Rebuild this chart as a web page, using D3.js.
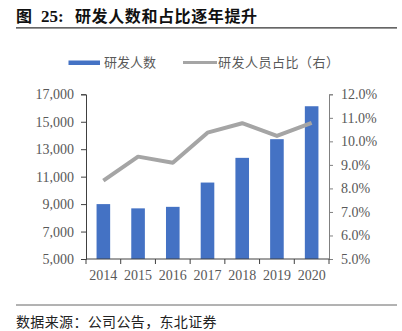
<!DOCTYPE html>
<html>
<head>
<meta charset="utf-8">
<script src="https://cdn.jsdelivr.net/npm/d3@7"></script>
<style>
  html, body { margin: 0; padding: 0; background: #fff; }
  svg { display: block; }
</style>
</head>
<body>
<svg id="chart" width="402" height="331"></svg>
<script>
// R&D headcount (left axis) and R&D share of staff (right axis), 2014–2020
const years = ["2014", "2015", "2016", "2017", "2018", "2019", "2020"];
const rdStaff = [9000, 8690, 8800, 10570, 12370, 13730, 16130];
const rdShare = [8.33, 9.35, 9.09, 10.37, 10.77, 10.23, 10.79];
const leftTicks = [5000, 7000, 9000, 11000, 13000, 15000, 17000];
const rightTicks = [5, 6, 7, 8, 9, 10, 11, 12];

const svg = d3.select("#chart");
const serif = "'Liberation Serif', 'Times New Roman', serif";
const cjk = "'Noto Sans CJK SC', sans-serif";
const labelColor = "#595959";

const plot = { left: 86, right: 329, top: 94.3, bottom: 259 };

// Header
const title = svg.append("text")
  .attr("y", 22)
  .attr("font-family", cjk)
  .attr("font-weight", "bold")
  .attr("font-size", 16)
  .attr("fill", "#111");
title.append("tspan").attr("x", 16).text("图");
title.append("tspan").attr("x", 41).attr("font-family", serif).attr("font-size", 17).text("25:");
title.append("tspan").attr("x", 75).attr("letter-spacing", 0.6).text("研发人数和占比逐年提升");

svg.append("line")
  .attr("x1", 16).attr("x2", 397).attr("y1", 27.8).attr("y2", 27.8)
  .attr("stroke", "#333").attr("stroke-width", 1.2);

// Scales
const xOuter = d3.scaleBand().domain(years).range([plot.left, plot.right]);
const yL = d3.scaleLinear().domain([5000, 17000]).range([plot.bottom, plot.top]);
const yR = d3.scaleLinear().domain([5, 12]).range([plot.bottom, plot.top]);

// Bars
svg.append("g").selectAll("rect")
  .data(years)
  .join("rect")
  .attr("x", (d) => xOuter(d) + xOuter.bandwidth() / 2 - 6.8)
  .attr("width", 13.6)
  .attr("y", (d, i) => yL(rdStaff[i]))
  .attr("height", (d, i) => plot.bottom - yL(rdStaff[i]))
  .attr("fill", "#4472C4");

// Share line
const line = d3.line()
  .x((d, i) => xOuter(years[i]) + xOuter.bandwidth() / 2)
  .y((d) => yR(d));
svg.append("path")
  .datum(rdShare)
  .attr("d", line)
  .attr("fill", "none")
  .attr("stroke", "#A5A5A5")
  .attr("stroke-width", 4)
  .attr("stroke-linejoin", "round");

// Left axis
const axL = svg.append("g")
  .attr("transform", `translate(${plot.left},0)`)
  .call(d3.axisLeft(yL).tickValues(leftTicks).tickSize(5).tickPadding(7).tickFormat(d3.format(",")));
axL.select(".domain").attr("stroke", "#404040");
axL.selectAll(".tick line").attr("stroke", "#404040");
axL.selectAll("text").attr("font-family", serif).attr("font-size", 14).attr("fill", labelColor);

// Right axis
const axR = svg.append("g")
  .attr("transform", `translate(${plot.right},0)`)
  .call(d3.axisRight(yR).tickValues(rightTicks).tickSize(4).tickPadding(8).tickFormat((d) => d.toFixed(1) + "%"));
axR.select(".domain").attr("stroke", "#808080");
axR.selectAll(".tick line").attr("stroke", "#808080");
axR.selectAll("text").attr("font-family", serif).attr("font-size", 14).attr("fill", labelColor);

// Bottom axis: ticks at category boundaries
const axB = svg.append("g").attr("transform", `translate(0,${plot.bottom})`);
axB.append("line")
  .attr("x1", plot.left).attr("x2", plot.right)
  .attr("stroke", "#404040");
const bounds = years.map((d) => xOuter(d)).concat([plot.right]);
axB.selectAll("line.tk")
  .data(bounds)
  .join("line")
  .attr("class", "tk")
  .attr("x1", (d) => d).attr("x2", (d) => d)
  .attr("y1", 0).attr("y2", 5)
  .attr("stroke", "#404040");
axB.selectAll("text")
  .data(years)
  .join("text")
  .attr("x", (d) => xOuter(d) + xOuter.bandwidth() / 2)
  .attr("y", 21)
  .attr("text-anchor", "middle")
  .attr("font-family", serif)
  .attr("font-size", 14)
  .attr("fill", labelColor)
  .text((d) => d);

// Legend
const lg = svg.append("g").attr("font-family", cjk).attr("font-size", 13).attr("fill", labelColor);
lg.append("rect").attr("x", 68.5).attr("y", 60.5).attr("width", 31.5).attr("height", 4.5).attr("fill", "#4472C4");
lg.append("text").attr("x", 104).attr("y", 67).text("研发人数");
lg.append("line").attr("x1", 183).attr("x2", 217).attr("y1", 62.5).attr("y2", 62.5)
  .attr("stroke", "#A5A5A5").attr("stroke-width", 3);
lg.append("text").attr("x", 218).attr("y", 67).attr("letter-spacing", 0.5).text("研发人员占比（右）");

// Footer
svg.append("line")
  .attr("x1", 16).attr("x2", 397).attr("y1", 305).attr("y2", 305)
  .attr("stroke", "#666").attr("stroke-width", 1);
svg.append("text")
  .attr("x", 16).attr("y", 327)
  .attr("font-family", cjk).attr("font-size", 14).attr("letter-spacing", 0.35).attr("fill", "#222")
  .text("数据来源：公司公告，东北证券");
</script>
</body>
</html>
